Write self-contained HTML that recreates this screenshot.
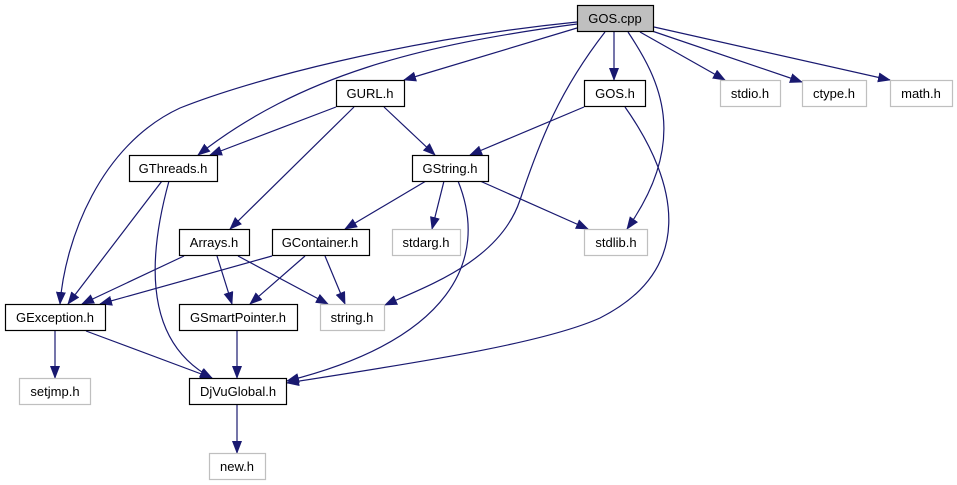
<!DOCTYPE html>
<html><head><meta charset="utf-8"><style>
html,body{margin:0;padding:0;background:#fff;}
svg{display:block;}
text{font-family:"Liberation Sans",sans-serif;font-size:13px;text-anchor:middle;fill:#000;}
</style></head><body>
<svg width="957" height="485" viewBox="0 0 957 485" xmlns="http://www.w3.org/2000/svg">
<defs>
<marker id="a" markerWidth="13" markerHeight="10" refX="12" refY="5" orient="auto" markerUnits="userSpaceOnUse">
<polygon points="0,0 13,5 0,10" fill="#191970"/>
</marker>
</defs>
<g fill="none" stroke="#191970" stroke-width="1.2" marker-end="url(#a)">
<path d="M577,28 L404,80"/>
<path d="M577,24 C420,45 300,75 198,155"/>
<path d="M577,22 C400,40 250,80 180,108 C100,145 65,240 60,304"/>
<path d="M614,32 L614,80"/>
<path d="M605,32 C560,90 540,140 520,200 C500,260 430,285 385,305"/>
<path d="M628,32 C660,80 690,140 627,229"/>
<path d="M640,32 L725,80"/>
<path d="M652,31 L802,82"/>
<path d="M654,27 L890,80"/>
<path d="M336,107 L210,155"/>
<path d="M354,107 L230,229"/>
<path d="M384,107 L435,155"/>
<path d="M584,107 L470,155"/>
<path d="M625,107 C680,185 695,270 600,318 C540,345 400,365 287,383"/>
<path d="M162,181 L68,304"/>
<path d="M169,181 C150,250 140,340 212,378"/>
<path d="M426,181 L345,229"/>
<path d="M444,181 L432,229"/>
<path d="M480,181 L588,229"/>
<path d="M458,181 C490,260 450,340 287,381"/>
<path d="M184,256 L82,304"/>
<path d="M217,256 L232,304"/>
<path d="M238,256 L328,304"/>
<path d="M272,256 L100,304"/>
<path d="M305,256 L250,304"/>
<path d="M325,256 L345,304"/>
<path d="M55,331 L55,378"/>
<path d="M86,331 L212,378"/>
<path d="M237,331 L237,378"/>
<path d="M237,405 L237,453"/>
</g>
<g stroke-width="1.2">
<rect x="577.5" y="5.5" width="76" height="26" fill="#bfbfbf" stroke="#000"/>
<rect x="336.5" y="80.5" width="68" height="26" fill="#fff" stroke="#000"/>
<rect x="584.5" y="80.5" width="61" height="26" fill="#fff" stroke="#000"/>
<rect x="720.5" y="80.5" width="60" height="26" fill="#fff" stroke="#bfbfbf"/>
<rect x="802.5" y="80.5" width="64" height="26" fill="#fff" stroke="#bfbfbf"/>
<rect x="890.5" y="80.5" width="62" height="26" fill="#fff" stroke="#bfbfbf"/>
<rect x="129.5" y="155.5" width="88" height="26" fill="#fff" stroke="#000"/>
<rect x="412.5" y="155.5" width="76" height="26" fill="#fff" stroke="#000"/>
<rect x="179.5" y="229.5" width="70" height="26" fill="#fff" stroke="#000"/>
<rect x="272.5" y="229.5" width="97" height="26" fill="#fff" stroke="#000"/>
<rect x="392.5" y="229.5" width="68" height="26" fill="#fff" stroke="#bfbfbf"/>
<rect x="584.5" y="229.5" width="63" height="26" fill="#fff" stroke="#bfbfbf"/>
<rect x="5.5" y="304.5" width="100" height="26" fill="#fff" stroke="#000"/>
<rect x="179.5" y="304.5" width="118" height="26" fill="#fff" stroke="#000"/>
<rect x="320.5" y="304.5" width="64" height="26" fill="#fff" stroke="#bfbfbf"/>
<rect x="19.5" y="378.5" width="71" height="26" fill="#fff" stroke="#bfbfbf"/>
<rect x="189.5" y="378.5" width="97" height="26" fill="#fff" stroke="#000"/>
<rect x="209.5" y="453.5" width="56" height="26" fill="#fff" stroke="#bfbfbf"/>
</g>
<text x="615" y="23">GOS.cpp</text>
<text x="370" y="98">GURL.h</text>
<text x="615" y="98">GOS.h</text>
<text x="750" y="98">stdio.h</text>
<text x="834" y="98">ctype.h</text>
<text x="921" y="98">math.h</text>
<text x="173" y="173">GThreads.h</text>
<text x="450" y="173">GString.h</text>
<text x="214" y="247">Arrays.h</text>
<text x="320" y="247">GContainer.h</text>
<text x="426" y="247">stdarg.h</text>
<text x="616" y="247">stdlib.h</text>
<text x="55" y="322">GException.h</text>
<text x="238" y="322">GSmartPointer.h</text>
<text x="352" y="322">string.h</text>
<text x="55" y="396">setjmp.h</text>
<text x="238" y="396">DjVuGlobal.h</text>
<text x="237" y="471">new.h</text>
</svg>
</body></html>
